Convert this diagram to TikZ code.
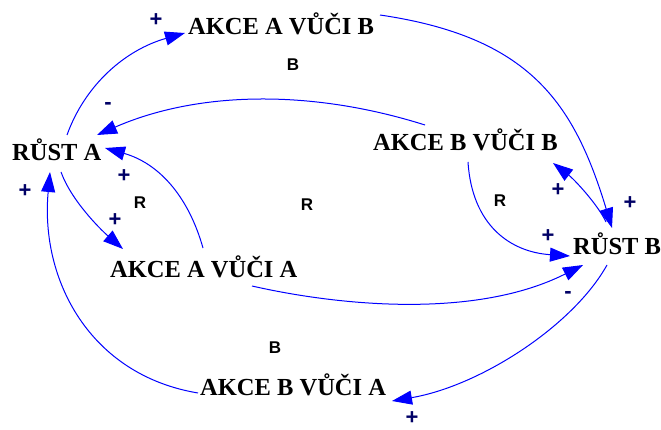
\documentclass[tikz,border=0pt]{standalone}
\usepackage{fontspec}
\setmainfont{Liberation Serif}
\newfontfamily\labelfont{Liberation Sans}
\usetikzlibrary{arrows.meta}
\definecolor{linkblue}{RGB}{0,0,255}
\definecolor{signnavy}{RGB}{0,0,102}
\begin{document}
\begin{tikzpicture}[x=1pt,y=-1pt,
  var/.style={anchor=base west, inner sep=0pt, font=\fontsize{24.5}{25}\selectfont\bfseries},
  link/.style={draw=linkblue, line width=1pt, -{Triangle[length=20pt,width=14pt]}},
  sign/.style={text=signnavy, inner sep=0pt, font=\labelfont\bfseries\fontsize{22}{22}\selectfont},
  looplabel/.style={inner sep=0pt, font=\labelfont\bfseries\fontsize{17}{17}\selectfont}]
\useasboundingbox (0,0) rectangle (661,430);

% variables
\node[var] (aab) at (188,35)  {AKCE A VŮČI B};
\node[var] (ra)  at (12,161)  {RŮST A};
\node[var] (bbb) at (373,151) {AKCE B VŮČI B};
\node[var] (rb)  at (573,255) {RŮST B};
\node[var] (aaa) at (110,277) {AKCE A VŮČI A};
\node[var] (bba) at (200,395) {AKCE B VŮČI A};

% causal links
\draw[link] ([xshift=55pt,yshift=26pt]ra.base west) .. controls (85,85) and (125,50) .. ([xshift=-3pt,yshift=2pt]aab.base west);
\draw[link] ([xshift=192pt,yshift=20pt]aab.base west) .. controls (530,37) and (574,103) .. ([xshift=39pt,yshift=27pt]rb.base west);
\draw[link] ([xshift=52pt,yshift=26pt]bbb.base west) .. controls (311,89) and (198,91) .. ([xshift=85pt,yshift=26pt]ra.base west);
\draw[link] ([xshift=93pt,yshift=29pt]aaa.base west) .. controls (188,195) and (158,163) .. ([xshift=93pt,yshift=13pt]ra.base west);
\draw[link] ([xshift=49pt,yshift=-11pt]ra.base west) .. controls (71,200) and (100,229) .. ([xshift=13pt,yshift=28pt]aaa.base west);
\draw[link] ([xshift=142pt,yshift=-9pt]aaa.base west) .. controls (340,306) and (476,319) .. ([xshift=10pt,yshift=-10pt]rb.base west);
\draw[link] ([xshift=95pt,yshift=-11pt]bbb.base west) .. controls (472,225) and (510,252) .. ([xshift=-3pt,yshift=-1pt]rb.base west);
\draw[link] ([xshift=33pt,yshift=33pt]rb.base west) .. controls (598,205) and (575,180) .. ([xshift=180pt,yshift=-12pt]bbb.base west);
\draw[link] ([xshift=34pt,yshift=-10pt]rb.base west) .. controls (573,326) and (480,386) .. ([xshift=192pt,yshift=-6pt]bba.base west);
\draw[link] ([xshift=-2pt,yshift=2pt]bba.base west) .. controls (90,375) and (40,280) .. ([xshift=38pt,yshift=-11pt]ra.base west);

% link polarities
\node[sign] (s1)  at (156,20)  {+};
\node[sign] (s2)  at (108,106) {-};
\node[sign] (s3)  at (124,176) {+};
\node[sign] (s4)  at (25,191)  {+};
\node[sign] (s5)  at (115,220) {+};
\node[sign] (s6)  at (558,190) {+};
\node[sign] (s7)  at (630,203) {+};
\node[sign] (s8)  at (548,236) {+};
\node[sign] (s9)  at (568,295) {-};
\node[sign] (s10) at (412,418) {+};

% loop polarities
\node[looplabel] (l1) at (293,65)  {B};
\node[looplabel] (l2) at (140,203) {R};
\node[looplabel] (l3) at (307,205) {R};
\node[looplabel] (l4) at (500,201) {R};
\node[looplabel] (l5) at (275,348) {B};
\end{tikzpicture}
\end{document}
